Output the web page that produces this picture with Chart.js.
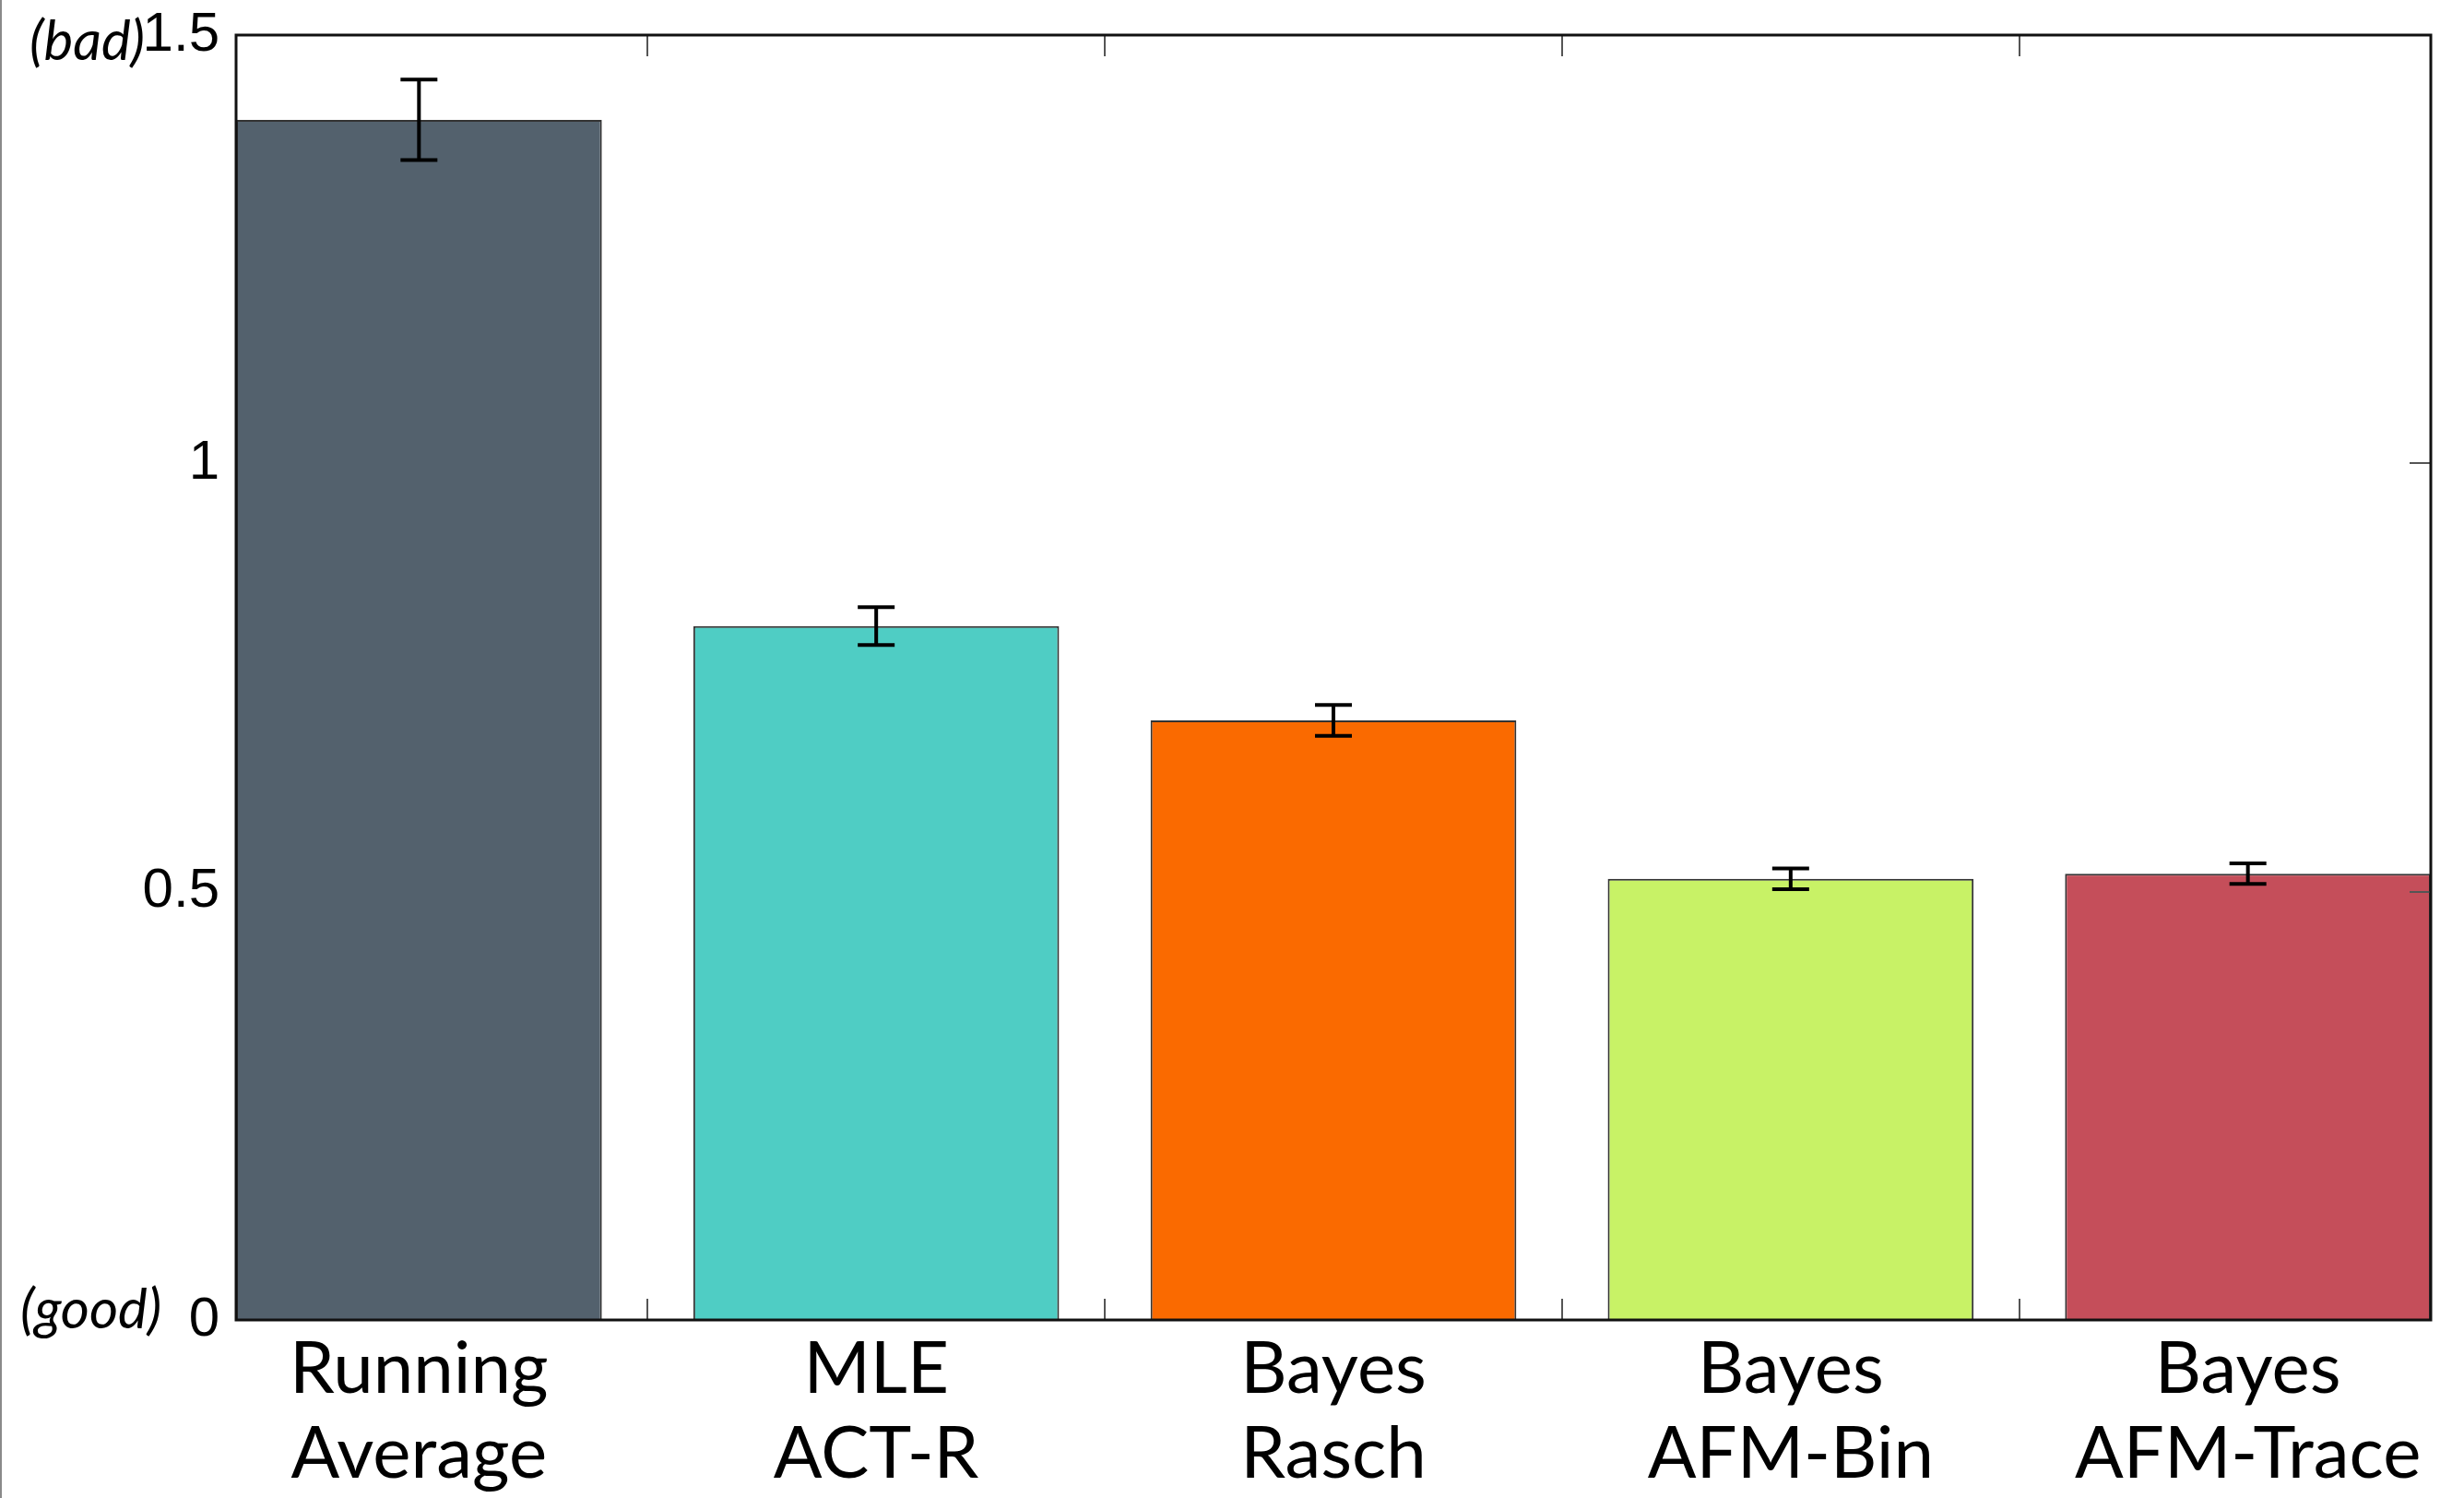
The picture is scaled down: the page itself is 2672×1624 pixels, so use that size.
<!DOCTYPE html>
<html>
<head>
<meta charset="utf-8">
<script src="https://cdn.jsdelivr.net/npm/chart.js@4.4.0/dist/chart.umd.min.js"></script>
<style>
  html, body { margin: 0; padding: 0; background: #fff; }
  #wrap { position: relative; width: 2672px; height: 1624px; }
  #edge { position: absolute; left: 0; top: 0; width: 2px; height: 1624px; background: #8a8a8a; }
</style>
</head>
<body>
<div id="wrap">
  <canvas id="myChart" width="2672" height="1624"></canvas>
  <div id="edge"></div>
</div>
<script>
'use strict';

// ******* DATA *******
let categories = [
  ['Running', 'Average'],
  ['MLE', 'ACT-R'],
  ['Bayes', 'Rasch'],
  ['Bayes', 'AFM-Bin'],
  ['Bayes', 'AFM-Trace']
];
let xPositions = [1, 2, 3, 4, 5];
let errorValues = [1.401, 0.810, 0.700, 0.515, 0.521];
let errorBars = [0.047, 0.022, 0.018, 0.012, 0.012];
let yTicks = [0, 0.5, 1, 1.5];
let xTickMarks = [1.5, 2.5, 3.5, 4.5];
let barColors = ['#53616d', '#4fcdc4', '#fa6a00', '#c8f266', '#c54e5a'];

// ******* PLUGINS *******
let errorBarPlugin = {
  id: 'errorBars',
  afterDatasetsDraw(chart) {
    let ctx = chart.ctx;
    let x = chart.scales.x;
    let y = chart.scales.y;
    let area = chart.chartArea;

    // inward tick marks, top and bottom
    ctx.save();
    ctx.strokeStyle = '#555';
    ctx.lineWidth = 2;
    for (let i = 0; i < xTickMarks.length; i++) {
      let px = Math.round(x.getPixelForValue(xTickMarks[i]));
      ctx.beginPath();
      ctx.moveTo(px, area.top);
      ctx.lineTo(px, area.top + 23);
      ctx.moveTo(px, area.bottom);
      ctx.lineTo(px, area.bottom - 23);
      ctx.stroke();
    }
    // right side ticks on y
    for (let i = 1; i < yTicks.length - 1; i++) {
      let py = Math.round(y.getPixelForValue(yTicks[i]));
      ctx.beginPath();
      ctx.moveTo(area.right, py);
      ctx.lineTo(area.right - 23, py);
      ctx.stroke();
    }
    ctx.restore();

    // error bars
    ctx.save();
    ctx.strokeStyle = '#000';
    ctx.lineWidth = 4;
    for (let i = 0; i < errorValues.length; i++) {
      let px = x.getPixelForValue(xPositions[i]);
      let top = y.getPixelForValue(errorValues[i] + errorBars[i]);
      let bot = y.getPixelForValue(errorValues[i] - errorBars[i]);
      ctx.beginPath();
      ctx.moveTo(px, top);
      ctx.lineTo(px, bot);
      ctx.moveTo(px - 20, top);
      ctx.lineTo(px + 20, top);
      ctx.moveTo(px - 20, bot);
      ctx.lineTo(px + 20, bot);
      ctx.stroke();
    }
    ctx.restore();

    // box round the plot
    ctx.save();
    ctx.strokeStyle = '#111';
    ctx.lineWidth = 3;
    ctx.strokeRect(area.left, area.top, area.right - area.left, area.bottom - area.top);
    ctx.restore();

    // (bad) / (good) notes
    ctx.save();
    ctx.fillStyle = '#000';
    ctx.font = 'italic 60px Lato';
    ctx.textBaseline = 'middle';
    ctx.textAlign = 'left';
    ctx.fillText('(bad)', 32, y.getPixelForValue(1.5) + 8);
    ctx.fillText('(good)', 22, y.getPixelForValue(0) - 10);
    ctx.restore();
  }
};

// ******* CHART *******
let canvasElem = document.getElementById('myChart').getContext('2d');

let barData = [];
for (let i = 0; i < errorValues.length; i++) {
  barData.push({ x: xPositions[i], y: errorValues[i] });
}

new Chart(canvasElem, {
  type: 'bar',
  data: {
    datasets: [{
      data: barData,
      backgroundColor: barColors,
      borderColor: '#333',
      borderWidth: 2,
      barPercentage: 0.8,
      categoryPercentage: 1.0
    }]
  },
  options: {
    responsive: false,
    animation: false,
    layout: { padding: { left: 0, right: 36, top: 38, bottom: 0 } },
    plugins: {
      legend: { display: false },
      tooltip: { enabled: false }
    },
    scales: {
      x: {
        type: 'linear',
        min: 0.6,
        max: 5.4,
        bounds: 'data',
        offset: false,
        grid: { display: false },
        border: { display: false },
        afterBuildTicks: (scale) => {
          scale.ticks = xPositions.map(v => ({ value: v }));
        },
        afterFit: (scale) => {
          scale.height = 193;
          scale.paddingLeft = 0;
          scale.paddingRight = 0;
        },
        ticks: {
          autoSkip: false,
          maxRotation: 0,
          padding: 0,
          color: '#000',
          font: { family: 'Lato', size: 78, lineHeight: 1.18 },
          callback: (value) => categories[xPositions.indexOf(value)]
        }
      },
      y: {
        min: 0,
        max: 1.5,
        grid: { display: false },
        border: { display: false },
        afterBuildTicks: (scale) => {
          scale.ticks = yTicks.map(v => ({ value: v }));
        },
        afterFit: (scale) => {
          scale.width = 256;
          scale.paddingTop = 0;
          scale.paddingBottom = 0;
        },
        ticks: {
          padding: 10,
          color: '#000',
          font: { family: 'Liberation Sans', size: 60 },
          callback: (value) => String(value)
        }
      }
    }
  },
  plugins: [errorBarPlugin]
});
</script>
</body>
</html>
